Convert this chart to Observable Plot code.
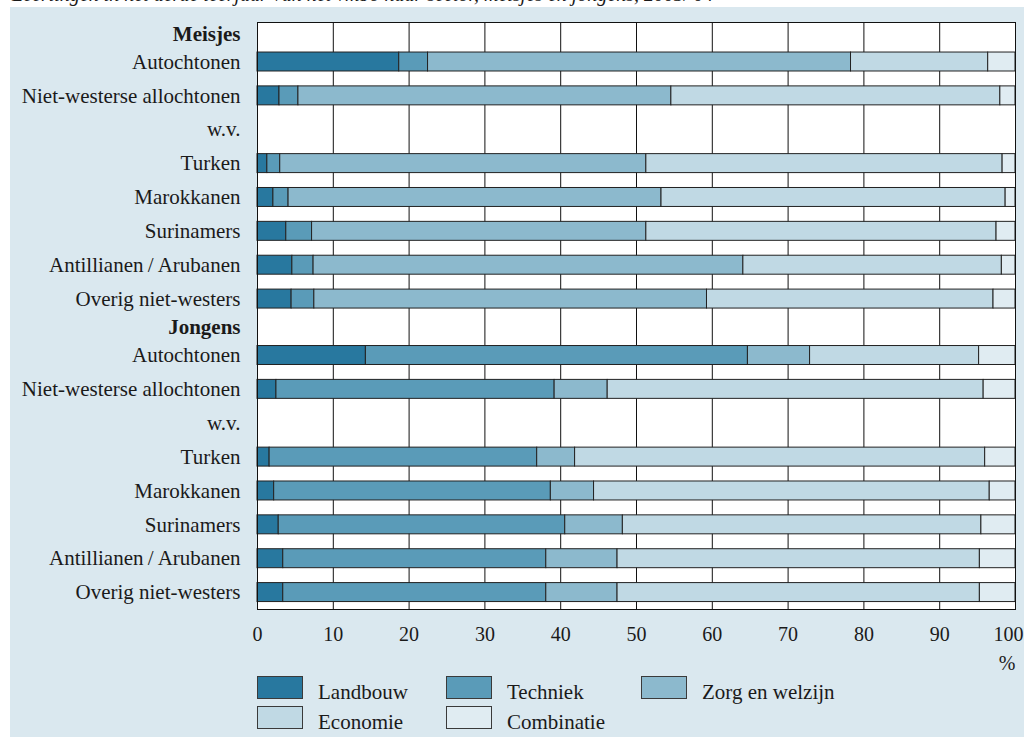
<!DOCTYPE html>
<html>
<head>
<meta charset="utf-8">
<script src="https://cdn.jsdelivr.net/npm/d3@7"></script>
<script src="https://cdn.jsdelivr.net/npm/@observablehq/plot@0.6"></script>
<style>
  body { margin: 0; background: #ffffff; font-family: "Liberation Serif", serif; color: #1a1a1a; }
  #title { position: absolute; left: 12px; top: -16px; font-size: 20px; line-height: 20px; font-style: italic; white-space: nowrap; }
  #panel { position: absolute; left: 10px; top: 7px; width: 1014px; height: 730px; background: #dae8ef; overflow: hidden; }
  #chart { position: absolute; left: 0; top: 0; }
  #legend { position: absolute; left: 0; top: 669px; width: 1014px; height: 61px; }
  .item { position: absolute; display: flex; align-items: center; font-size: 21px; height: 23px; }
  .sw { width: 44px; height: 21px; border: 1px solid #3a3a3a; margin-right: 15px; flex: none; }
  .lab { position: relative; top: 5px; white-space: nowrap; }
</style>
</head>
<body>
<div id="title">Leerlingen in het derde leerjaar van het vmbo naar sector, meisjes en jongens, 2003/'04</div>
<div id="panel">
  <div id="chart"></div>
  <div id="legend"></div>
</div>
<script>
// ---- data ----
const sectors = ["Landbouw", "Techniek", "Zorg en welzijn", "Economie", "Combinatie"];
const sectorColors = ["#28789f", "#5a9bb8", "#8cb9cd", "#c0d9e4", "#e0ecf2"];
const groups = ["Meisjes", "Jongens"];
const origins = ["Autochtonen", "Niet-westerse allochtonen", "Turken", "Marokkanen", "Surinamers", "Antillianen\u2009/\u2009Arubanen", "Overig niet-westers"];
const subLabel = "w.v.";
const xTicks = [0, 10, 20, 30, 40, 50, 60, 70, 80, 90, 100];
const unitLabel = "%";

// Meisjes (%), per sector, in origin order
const meisjesLandbouw   = [18.7, 2.9, 1.3, 2.1, 3.8, 4.6, 4.5];
const meisjesTechniek   = [3.8, 2.5, 1.7, 2.0, 3.4, 2.8, 3.0];
const meisjesZorg       = [55.8, 49.2, 48.3, 49.2, 44.1, 56.7, 51.8];
const meisjesEconomie   = [18.1, 43.4, 47.0, 45.4, 46.2, 34.1, 37.8];
const meisjesCombinatie = [3.6, 2.0, 1.7, 1.3, 2.5, 1.8, 2.9];

// Jongens (%), per sector, in origin order
const jongensLandbouw   = [14.3, 2.5, 1.6, 2.2, 2.8, 3.4, 3.4];
const jongensTechniek   = [50.4, 36.7, 35.3, 36.5, 37.8, 34.7, 34.7];
const jongensZorg       = [8.2, 7.0, 5.0, 5.7, 7.6, 9.4, 9.4];
const jongensEconomie   = [22.3, 49.6, 54.1, 52.2, 47.3, 47.8, 47.8];
const jongensCombinatie = [4.8, 4.2, 4.0, 3.4, 4.5, 4.7, 4.7];

const seriesByGroup = {
  Meisjes: [meisjesLandbouw, meisjesTechniek, meisjesZorg, meisjesEconomie, meisjesCombinatie],
  Jongens: [jongensLandbouw, jongensTechniek, jongensZorg, jongensEconomie, jongensCombinatie]
};

// ---- layout of rows (header rows are thinner than data rows) ----
const HEADER_W = 2, ROW_W = 3, BAR_HALF = 0.84;
const rows = [];
const bars = [];
let pos = 0;
groups.forEach(g => {
  rows.push({label: g, header: true, center: pos + HEADER_W / 2});
  pos += HEADER_W;
  origins.forEach((o, i) => {
    const c = pos + ROW_W / 2;
    rows.push({label: o, header: false, center: c});
    let cum = 0;
    sectors.forEach((s, si) => {
      const v = seriesByGroup[g][si][i];
      bars.push({group: g, origin: o, sector: s, value: v, x1: cum, x2: cum + v, y1: c - BAR_HALF, y2: c + BAR_HALF});
      cum += v;
    });
    pos += ROW_W;
    if (i === 1) {
      rows.push({label: subLabel, header: false, center: pos + ROW_W / 2});
      pos += ROW_W;
    }
  });
});
const total = pos;

const chart = Plot.plot({
  width: 1014,
  height: 668,
  marginLeft: 247,
  marginRight: 9,
  marginTop: 15,
  marginBottom: 66,
  style: {fontFamily: "Liberation Serif, serif", fontSize: "20px", background: "transparent", color: "#1a1a1a"},
  x: {domain: [0, 100]},
  y: {domain: [0, total], reverse: true, axis: null},
  color: {domain: sectors, range: sectorColors},
  marks: [
    Plot.frame({fill: "white"}),
    Plot.ruleX(xTicks.slice(1, -1), {stroke: "#111", strokeWidth: 1}),
    Plot.rect(bars, {x1: "x1", x2: "x2", y1: "y1", y2: "y2", fill: "sector", stroke: "#222", strokeWidth: 1}),
    Plot.frame({stroke: "#111", strokeWidth: 1}),
    Plot.axisX(xTicks.slice(0, -1), {tickSize: 0, tickPadding: 17, label: null, fill: "#1a1a1a"}),
    Plot.axisX(xTicks.slice(-1), {tickSize: 0, tickPadding: 17, label: null, fill: "#1a1a1a", dx: -7}),
    Plot.text(rows.filter(d => !d.header), {x: 0, y: "center", text: "label", textAnchor: "end", dx: -17, fontSize: 21, fill: "#1a1a1a"}),
    Plot.text(rows.filter(d => d.header), {x: 0, y: "center", text: "label", textAnchor: "end", dx: -17, fontSize: 21, fontWeight: "bold", fill: "#1a1a1a"}),
    Plot.text([unitLabel], {frameAnchor: "bottom-right", dy: 60, text: d => d, textAnchor: "end", fill: "#1a1a1a"})
  ]
});
document.getElementById("chart").appendChild(chart);

// ---- legend ----
const legend = document.getElementById("legend");
const colX = [247, 436, 631];
sectors.forEach((s, i) => {
  const item = document.createElement("div");
  item.className = "item";
  item.style.left = colX[i % 3] + "px";
  item.style.top = (Math.floor(i / 3) * 30) + "px";
  const sw = document.createElement("div");
  sw.className = "sw";
  sw.style.background = sectorColors[i];
  const lab = document.createElement("span");
  lab.className = "lab";
  lab.textContent = s;
  item.appendChild(sw);
  item.appendChild(lab);
  legend.appendChild(item);
});
</script>
</body>
</html>
